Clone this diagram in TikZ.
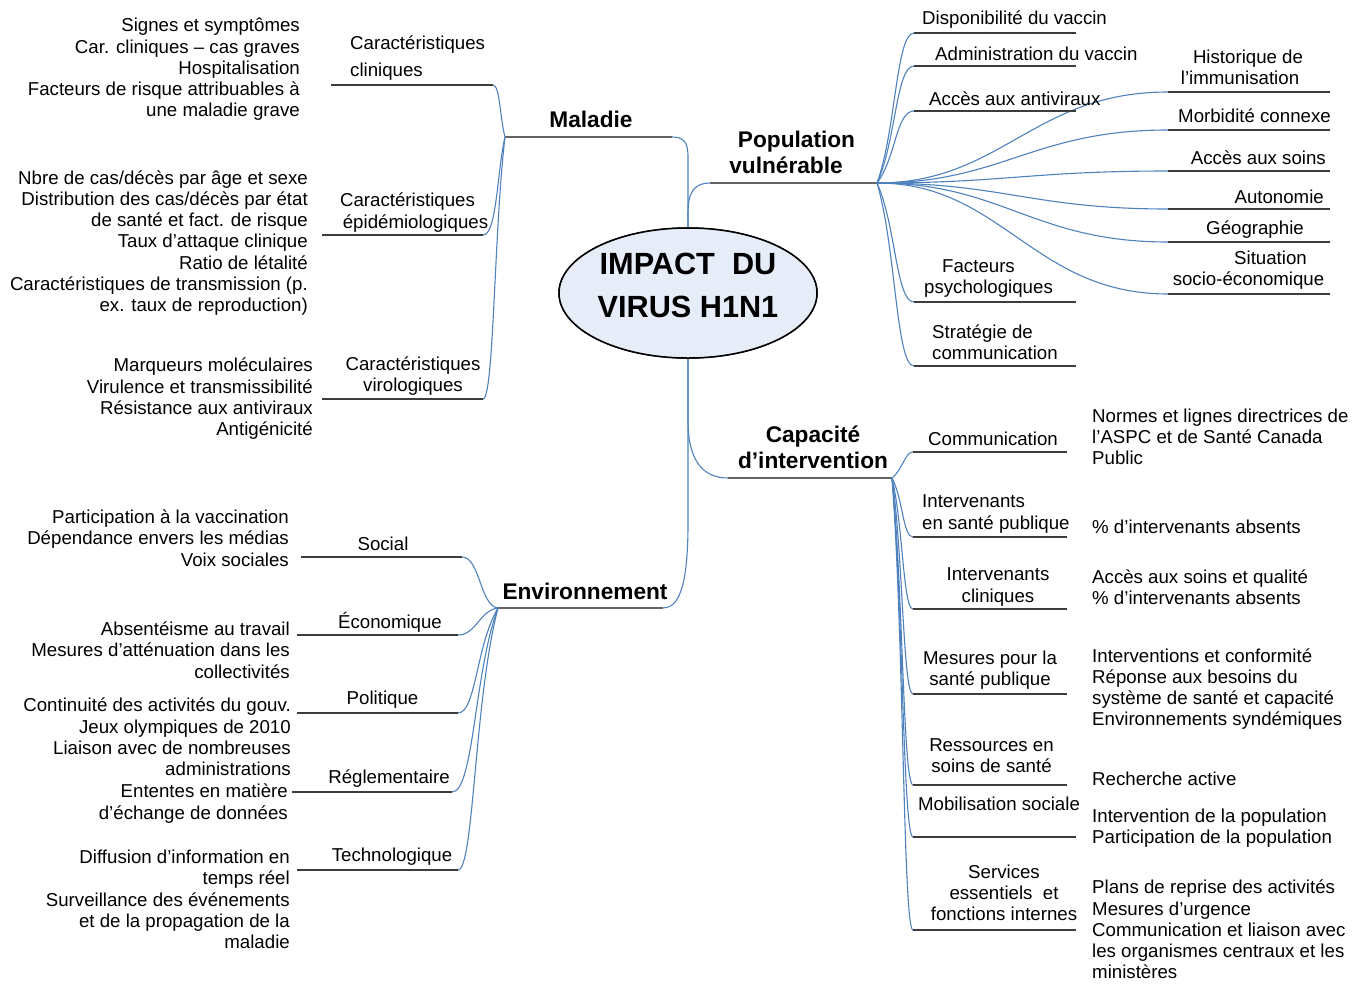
\documentclass[tikz,border=0pt]{standalone}
\usepackage{fontspec}
\setmainfont{Liberation Sans}
\usetikzlibrary{shapes.geometric}
\definecolor{connblue}{RGB}{79,129,189}
\definecolor{lineg}{RGB}{60,60,60}
\definecolor{maing}{RGB}{100,100,100}
\definecolor{ellfill}{RGB}{230,237,248}
\begin{document}
\begin{tikzpicture}[x=1pt,y=-1pt,
  conn/.style={draw=connblue, line width=1.1pt},
  uline/.style={draw=lineg, line width=1.4pt},
  mline/.style={draw=maing, line width=2pt},
  txt/.style={font=\fontsize{18.67}{21.3}\selectfont, inner sep=0pt, yshift=-2pt},
  head/.style={font=\fontsize{22.67}{26}\selectfont\bfseries, inner sep=0pt, align=center},
  ttl/.style={font=\fontsize{30.67}{43}\selectfont\bfseries, inner sep=0pt, align=center},
  hub/.style={ellipse, draw=black, line width=1.5pt, fill=ellfill, minimum width=258pt, minimum height=130pt, inner sep=0pt}
]
\useasboundingbox (0,0) rectangle (1364,983);

% ---------- coordinates of underline ends ----------
\coordinate (malL) at (505,137); \coordinate (malR) at (672,137);
\coordinate (popL) at (710,183); \coordinate (popR) at (877,183);
\coordinate (capL) at (728,478); \coordinate (capR) at (892,478);
\coordinate (envL) at (498,608); \coordinate (envR) at (663,608);

\coordinate (clinA) at (331,85);  \coordinate (clinB) at (493,85);
\coordinate (epiA) at (322,235);  \coordinate (epiB) at (483,235);
\coordinate (virA) at (322,399);  \coordinate (virB) at (483,399);

\coordinate (dispA) at (914,33);  \coordinate (dispB) at (1076,33);
\coordinate (admA) at (914,66);   \coordinate (admB) at (1076,66);
\coordinate (antA) at (914,111);  \coordinate (antB) at (1076,111);
\coordinate (psyA) at (914,302);  \coordinate (psyB) at (1076,302);
\coordinate (strA) at (914,366);  \coordinate (strB) at (1076,366);

\coordinate (hisA) at (1168,92);  \coordinate (hisB) at (1330,92);
\coordinate (morA) at (1168,130); \coordinate (morB) at (1330,130);
\coordinate (soiA) at (1168,171); \coordinate (soiB) at (1330,171);
\coordinate (autA) at (1168,209); \coordinate (autB) at (1330,209);
\coordinate (geoA) at (1168,242); \coordinate (geoB) at (1330,242);
\coordinate (sitA) at (1168,294); \coordinate (sitB) at (1330,294);

\coordinate (comA) at (913,452);  \coordinate (comB) at (1067,452);
\coordinate (ispA) at (913,537);  \coordinate (ispB) at (1067,537);
\coordinate (iclA) at (913,609);  \coordinate (iclB) at (1067,609);
\coordinate (mesA) at (913,694);  \coordinate (mesB) at (1067,694);
\coordinate (resA) at (913,785);  \coordinate (resB) at (1067,785);
\coordinate (mobA) at (913,837);  \coordinate (mobB) at (1076,837);
\coordinate (serA) at (913,930);  \coordinate (serB) at (1076,930);

\coordinate (socA) at (301,557);  \coordinate (socB) at (462,557);
\coordinate (ecoA) at (297,635);  \coordinate (ecoB) at (458,635);
\coordinate (polA) at (297,713);  \coordinate (polB) at (458,713);
\coordinate (regA) at (292,792);  \coordinate (regB) at (452,792);
\coordinate (tecA) at (297,870);  \coordinate (tecB) at (458,870);

% ---------- hub (reference for anchors) ----------
\node[hub] (ell) at (688,293) {};

% ---------- main connectors ----------
\draw[conn] (ell.north) -- ++(0,-70) .. controls +(0,-15) and +(12,0) .. (malR);
\draw[conn] (ell.north) -- ++(0,-15) .. controls +(0,-22) and +(-14,0) .. (popL);
\draw[conn] (ell.south) -- ++(0,62) .. controls +(0,40) and +(-25,0) .. (capL);
\draw[conn] (ell.south) -- ++(0,165) .. controls +(0,65) and +(15,0) .. (envR);

\draw[mline] (malL) -- (malR);
\draw[mline] (popL) -- (popR);
\draw[mline] (capL) -- (capR);
\draw[mline] (envL) -- (envR);

% ---------- Maladie ----------
\draw[conn] (malL) .. controls +(-5,-18) and +(7,0) .. (clinB);
\draw[conn] (malL) .. controls +(-8,34) and +(14,0) .. (epiB);
\draw[conn] (malL) .. controls +(-11,92) and +(11,0) .. (virB);
\draw[uline] (clinA) -- (clinB);
\draw[uline] (epiA) -- (epiB);
\draw[uline] (virA) -- (virB);

% ---------- Population vulnerable ----------
\draw[conn] (popR) .. controls +(19,-52) and +(-18,0) .. (dispA);
\draw[conn] (popR) .. controls +(19,-41) and +(-18,0) .. (admA);
\draw[conn] (popR) .. controls +(19,-25) and +(-18,0) .. (antA);
\draw[conn] (popR) .. controls +(19,42) and +(-18,0) .. (psyA);
\draw[conn] (popR) .. controls +(19,64) and +(-18,0) .. (strA);
\foreach \n in {his,mor,soi,aut,geo,sit}{
  \draw[conn] (popR) .. controls +(125,0) and +(-135,0) .. (\n A);
}
\foreach \n in {disp,adm,ant,psy,str,his,mor,soi,aut,geo,sit}{
  \draw[uline] (\n A) -- (\n B);
}

% ---------- Capacite d'intervention ----------
\draw[conn] (capR) .. controls +(11,-9) and +(-8,0) .. (comA);
\draw[conn] (capR) .. controls +(11,21) and +(-10,0) .. (ispA);
\draw[conn] (capR) .. controls +(11,46) and +(-10,0) .. (iclA);
\draw[conn] (capR) .. controls +(11,76) and +(-10,0) .. (mesA);
\draw[conn] (capR) .. controls +(11,108) and +(-10,0) .. (resA);
\draw[conn] (capR) .. controls +(11,126) and +(-10,0) .. (mobA);
\draw[conn] (capR) .. controls +(12,159) and +(-10,0) .. (serA);
\foreach \n in {com,isp,icl,mes,res,mob,ser}{
  \draw[uline] (\n A) -- (\n B);
}

% ---------- Environnement ----------
\draw[conn] (envL) .. controls +(-18,-2) and +(18,0) .. (socB);
\draw[conn] (envL) .. controls +(-18,2) and +(18,0) .. (ecoB);
\draw[conn] (envL) .. controls +(-22,37) and +(18,0) .. (polB);
\draw[conn] (envL) .. controls +(-24,64) and +(22,0) .. (regB);
\draw[conn] (envL) .. controls +(-24,92) and +(16,0) .. (tecB);
\foreach \n in {soc,eco,pol,reg,tec}{
  \draw[uline] (\n A) -- (\n B);
}

% ---------- hub again on top ----------
\node[hub] (ellTop) at (688,293) {};
\node[ttl] (title) at (688,285.5) {IMPACT~~DU\\VIRUS H1N1};

% ---------- branch titles ----------
\node[head] (hMal) at (591,119) {Maladie};
\node[head] (hPop) at (786,152) {\hspace*{21pt}Population\\vulnérable};
\node[head] (hCap) at (813,447) {Capacité\\d’intervention};
\node[head] (hEnv) at (585,591) {Environnement};

% ---------- Maladie texts ----------
\node[txt, align=left, anchor=west] (tClin) at (350,56.5) {Caractéristiques\\[5.7pt]cliniques};
\node[txt, align=right, anchor=east] (lClin) at (300,67.5) {Signes et symptômes\\Car. cliniques – cas graves\\Hospitalisation\\Facteurs de risque attribuables à\\une maladie grave};
\node[txt, align=center] (tEpi) at (407.5,210.5) {Caractéristiques\\\hspace*{16pt}épidémiologiques};
\node[txt, align=right, anchor=east] (lEpi) at (308,241) {Nbre de cas/décès par âge et sexe\\Distribution des cas/décès par état\\de santé et fact. de risque\\Taux d’attaque clinique\\Ratio de létalité\\Caractéristiques de transmission (p.\\ex. taux de reproduction)};
\node[txt, align=center] (tVir) at (413,374) {Caractéristiques\\virologiques};
\node[txt, align=right, anchor=east] (lVir) at (313,397) {Marqueurs moléculaires\\Virulence et transmissibilité\\Résistance aux antiviraux\\Antigénicité};

% ---------- Population texts ----------
\node[txt, anchor=west] (tDisp) at (922,18) {Disponibilité du vaccin};
\node[txt, anchor=west] (tAdm) at (935,52) {Administration du vaccin};
\node[txt, anchor=west] (tAnt) at (929,97) {Accès aux antiviraux};
\node[txt, align=center] (tPsy) at (978.5,276.5) {Facteurs\\\hspace*{20pt}psychologiques};
\node[txt, align=left, anchor=west] (tStr) at (932,340) {Stratégie de\\communication};
\node[txt, align=center] (tHis) at (1240,65) {\hspace*{16pt}Historique de\\l’immunisation};
\node[txt, anchor=west] (tMor) at (1178,114) {Morbidité connexe};
\node[txt, anchor=east] (tSoi) at (1326,156) {Accès aux soins};
\node[txt, anchor=east] (tAut) at (1324,195) {Autonomie};
\node[txt] (tGeo) at (1255,228) {Géographie};
\node[txt, align=center] (tSit) at (1248.5,268) {\hspace*{44pt}Situation\\socio-économique};

% ---------- Capacite texts ----------
\node[txt] (tCom) at (993,437) {Communication};
\node[txt, align=left, anchor=west] (tIsp) at (922,512) {Intervenants\\en santé publique};
\node[txt, align=center] (tIcl) at (998,585) {Intervenants\\cliniques};
\node[txt, align=center] (tMes) at (990,668) {Mesures pour la\\santé publique};
\node[txt, align=center] (tRes) at (991.5,754) {Ressources en\\soins de santé};
\node[txt] (tMob) at (999,802) {Mobilisation sociale};
\node[txt, align=center] (tSer) at (1004,890.7) {Services\\essentiels~~et\\fonctions internes};

\node[txt, align=left, anchor=west] (rCom) at (1092,434.7) {Normes et lignes directrices de\\l’ASPC et de Santé Canada\\Public};
\node[txt, anchor=west] (rIsp) at (1092,525) {\% d’intervenants absents};
\node[txt, align=left, anchor=west] (rIcl) at (1092,585) {Accès aux soins et qualité\\\% d’intervenants absents};
\node[txt, align=left, anchor=west] (rMes) at (1092,687) {Interventions et conformité\\Réponse aux besoins du\\système de santé et capacité\\Environnements syndémiques};
\node[txt, anchor=west] (rRes) at (1092,777) {Recherche active};
\node[txt, align=left, anchor=west] (rMob) at (1092,826) {Intervention de la population\\Participation de la population};
\node[txt, align=left, anchor=west] (rSer) at (1092,927.5) {Plans de reprise des activités\\Mesures d’urgence\\Communication et liaison avec\\les organismes centraux et les\\ministères};

% ---------- Environnement texts ----------
\node[txt] (tSoc) at (383,542) {Social};
\node[txt] (tEco) at (390,620) {Économique};
\node[txt] (tPol) at (382.5,698) {Politique};
\node[txt] (tReg) at (389,777) {Réglementaire};
\node[txt] (tTec) at (392,855) {Technologique};

\node[txt, align=right, anchor=east] (lSoc) at (289,536) {Participation à la vaccination\\Dépendance envers les médias\\Voix sociales};
\node[txt, align=right, anchor=east] (lEco) at (290,648) {Absentéisme au travail\\Mesures d’atténuation dans les\\collectivités};
\node[txt, align=right, anchor=east] (lPol) at (291,735) {Continuité des activités du gouv.\\Jeux olympiques de 2010\\Liaison avec de nombreuses\\administrations};
\node[txt, align=right, anchor=east] (lReg) at (288,801.5) {Ententes en matière\\d’échange de données};
\node[txt, align=right, anchor=east] (lTec) at (290,897.5) {Diffusion d’information en\\temps réel\\Surveillance des événements\\et de la propagation de la\\maladie};
\end{tikzpicture}
\end{document}
